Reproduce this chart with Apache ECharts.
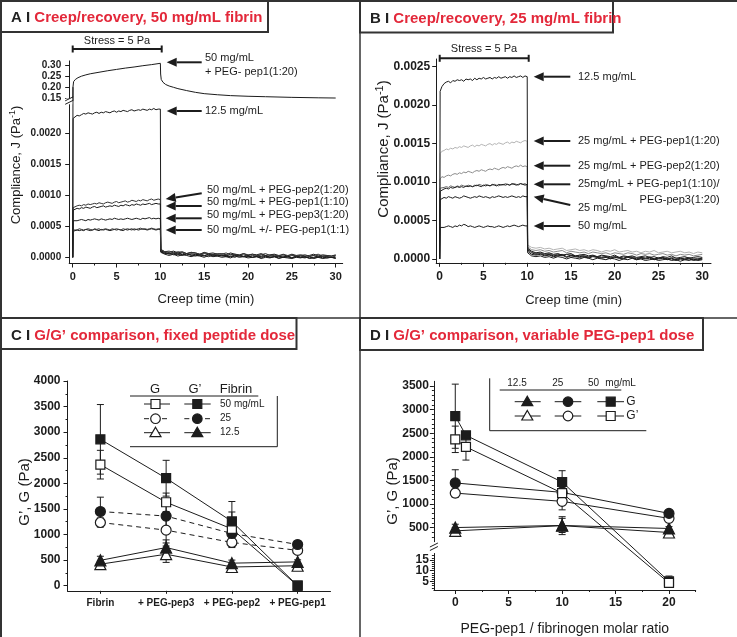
<!DOCTYPE html>
<html><head><meta charset="utf-8">
<script src="https://cdn.jsdelivr.net/npm/echarts@6/dist/echarts.min.js"></script>
<style>html,body{margin:0;padding:0;background:#fff}#c{width:737px;height:637px}</style>
</head><body><div id="c"></div>
<script>
// ---------------- DATA ----------------
// Creep / recovery time axes (min)
const creepTime = [0, 0.05, 0.25, 0.5, 0.75, 1, 1.25, 1.5, 1.75, 2, 2.25, 2.5, 2.75, 3, 3.25, 3.5, 3.75, 4, 4.25, 4.5, 4.75, 5, 5.25, 5.5, 5.75, 6, 6.25, 6.5, 6.75, 7, 7.25, 7.5, 7.75, 8, 8.25, 8.5, 8.75, 9, 9.25, 9.5, 9.75, 10];
const recoveryTime = [10.05, 10.5, 11, 11.5, 12, 12.5, 13, 13.5, 14, 14.5, 15, 15.5, 16, 16.5, 17, 17.5, 18, 18.5, 19, 19.5, 20, 20.5, 21, 21.5, 22, 22.5, 23, 23.5, 24, 24.5, 25, 25.5, 26, 26.5, 27, 27.5, 28, 28.5, 29, 29.5, 30];
// compliance values below are in units of 1e-5 Pa^-1
const J_UNIT = 1e-5;

// Panel A (50 mg/mL fibrin)
const a125Creep = [0,224,227,229,228,230,232,231,233,232, 231,233,234,232,234,233,235,234,233,235, 236,234,236,235,237,236,235,237,238,236, 237,238,237,239,238,237,239,238,240,238, 239,239];
const a125Rec = [13,9,8,10,7,9,6,8,7,5, 8,6,7,5,6,4,7,5,4,6, 3,5,4,6,3,4,5,3,4,2, 5,3,4,2,3,5,2,4,3,2, 4];
const aPep2Creep = [0,80,82,83,84,83,85,84,86,85, 86,87,86,88,87,86,88,89,88,87, 89,90,88,89,90,91,89,90,92,91, 90,92,91,93,92,91,93,94,92,93, 94,93];
const aPep2Rec = [11,7,6,8,5,7,4,6,5,3, 6,4,5,3,4,2,5,3,2,4, 1,3,2,4,1,2,3,1,2,0, 3,1,2,0,1,3,0,2,1,0, 2];
const aPep1_10Creep = [0,76,78,79,78,80,79,81,80,79, 81,82,80,81,82,83,81,82,83,82, 84,83,82,84,83,85,84,83,85,84, 86,85,84,86,85,86,87,85,86,87, 86,86];
const aPep1_10Rec = [10,8,5,6,7,4,6,3,5,4, 2,5,3,4,2,3,1,4,2,1, 3,0,2,1,3,0,1,2,0,1, -1,2,0,1,-1,0,2,-1,1,0, -1];
const aPep3Creep = [0,59,60,59,60,61,60,59,61,60, 61,62,61,60,62,61,60,61,62,61, 63,62,61,62,61,62,63,62,61,62, 63,62,61,63,62,63,64,62,63,62, 63,62];
const aPep3Rec = [9,6,7,4,5,3,6,4,2,4, 3,1,4,2,3,1,2,0,3,1, 2,0,1,-1,2,0,1,-1,0,2, -1,1,0,-1,1,-2,0,1,-1,0, -2];
const a50Creep = [0,42,43,44,43,44,43,45,44,43, 44,45,44,43,45,44,45,44,43,44, 45,44,45,44,43,45,44,45,46,44, 45,44,45,46,45,44,45,46,45,44, 45,45];
const a50Rec = [8,5,3,5,2,4,3,1,3,2, 0,3,1,2,0,1,-1,2,0,1, -1,0,1,-2,0,-1,1,-2,0,-1, -2,0,-1,1,-2,-1,0,-2,-1,0, -1];
const aPep1_1Creep = [0,44,45,44,46,45,44,45,46,45, 44,46,45,46,44,45,46,45,44,46, 45,46,45,44,46,45,46,45,44,46, 45,46,47,45,46,45,46,47,46,45, 46,46];
const aPep1_1Rec = [12,9,10,7,9,8,6,8,7,5, 7,6,4,6,5,7,4,5,3,6, 4,5,3,4,6,3,4,2,5,3, 4,2,3,4,2,3,5,2,3,2, 3];
// 50 mg/mL + PEG-pep1(1:20), upper (broken) segment, Pa^-1
const aPep1_20Time = [0,0.03,0.1,0.3,0.6,1,1.5,2,3,4,5,6,7,8,9,10,10.03,10.1,10.3,10.6,11,11.5,12,13,14,15,16.5,18,20,22,25,28,30];
const aPep1_20J = [0,0.2,0.225,0.235,0.243,0.25,0.256,0.261,0.268,0.275,0.281,0.287,0.292,0.298,0.303,0.309,0.26,0.235,0.222,0.212,0.205,0.199,0.193,0.184,0.176,0.17,0.165,0.161,0.158,0.156,0.153,0.151,0.15];

// Panel B (25 mg/mL fibrin)
const b125Creep = [0,218,224,228,230,231,229,232,231,233, 232,233,231,234,233,234,232,235,233,235, 234,236,234,235,236,234,236,235,237,235, 236,237,235,237,236,238,236,237,238,236, 238,237];
const b125Rec = [14,10,8,9,7,8,6,7,5,6, 7,4,5,6,4,5,3,5,4,3, 5,2,4,3,4,2,3,4,2,3, 1,3,2,4,1,2,3,1,2,3, 2];
const bPep1_20Creep = [0,137,140,141,143,142,144,143,145,144, 146,145,147,146,145,147,148,146,148,147, 149,148,147,149,150,148,150,149,151,150, 149,151,152,150,152,151,153,152,151,153, 154,153];
const bPep1_20Rec = [18,15,14,15,13,14,12,13,14,11, 12,13,11,12,10,12,11,9,11,10, 12,9,10,11,9,10,8,10,9,11, 8,9,10,8,9,10,8,9,7,9, 8];
const bPep2Creep = [0,104,107,106,108,109,108,110,111,110, 112,111,113,112,114,113,112,114,115,114, 116,115,114,116,117,116,118,117,116,118, 119,118,120,119,118,120,121,120,122,120, 121,120];
const bPep2Rec = [16,12,11,12,10,11,9,10,11,8, 10,9,8,9,7,9,8,7,8,6, 8,7,6,8,7,5,7,6,7,5, 6,7,5,6,4,6,5,6,4,5, 6];
const bPep1_10Creep = [0,88,90,91,92,91,93,92,93,94, 93,94,93,95,94,95,94,95,96,95, 94,96,95,96,95,97,96,95,97,96, 97,96,97,96,98,97,96,97,98,97, 96,97];
const bPep1_10Rec = [12,8,6,7,5,6,4,5,6,3, 5,4,3,4,2,4,3,2,3,1, 3,2,1,3,2,0,2,1,2,0, 1,2,0,1,-1,1,0,1,-1,0, 1];
const bPep3Creep = [0,92,94,93,94,93,95,94,93,95, 94,96,95,94,96,95,94,96,95,97, 96,95,97,96,95,96,97,96,95,97, 96,98,97,96,97,98,97,96,98,97, 98,96];
const bPep3Rec = [13,9,7,8,6,7,5,6,4,6, 5,3,5,4,3,4,2,4,3,2, 3,1,3,2,3,1,2,1,3,0, 2,1,0,2,1,0,1,2,0,1, 0];
const b25Creep = [0,77,79,80,79,81,80,79,81,80, 79,80,82,81,80,79,80,81,80,82, 81,80,81,80,79,81,80,81,82,81, 80,81,80,81,82,81,80,81,80,82, 81,81];
const b25Rec = [10,6,5,6,4,5,3,4,5,2, 4,3,2,3,1,3,2,1,2,0, 2,1,0,2,1,-1,1,0,1,-1, 0,1,-1,0,-2,0,-1,0,-2,-1, 0];
const b50Creep = [0,41,42,41,42,43,42,41,43,42, 44,43,45,44,42,43,42,41,42,43, 42,41,42,43,42,42,41,42,43,42, 41,42,43,42,43,44,43,42,43,44, 43,43];
const b50Rec = [8,4,3,4,2,3,1,3,2,0, 2,1,0,2,1,-1,1,0,-1,1, 0,-2,0,-1,1,-1,0,-2,-1,0, -2,-1,0,-2,-1,-3,-1,-2,0,-2, -1];

// Panel C (fixed peptide dose), Pa
const cCategories = ['Fibrin', '+ PEG-pep3', '+ PEG-pep2', '+ PEG-pep1'];
const c50Gp = [2860, 2100, 1255, 0];   const c50GpErr = [680, 350, 390, 0];
const c50G = [2365, 1630, 1110, 0];    const c50GErr = [280, 180, 330, 0];
const c25Gp = [1450, 1360, 1020, 805]; const c25GpErr = [280, 300, 200, 30];
const c25G = [1235, 1085, 845, 690];   const c25GErr = [90, 250, 100, 30];
const c125Gp = [495, 745, 440, 465];   const c125GpErr = [80, 150, 60, 40];
const c125G = [420, 615, 365, 390];    const c125GErr = [60, 160, 50, 40];

// Panel D (variable PEG-pep1 dose), Pa
const dRatio50 = [0, 1, 10, 20];
const d50G = [2860, 2455, 1465, 5];    const d50GErr = [680, 0, 240, 2.5];
const d50Gp = [2370, 2210, 1230, 4.3]; const d50GpErr = [280, 280, 150, 1.5];
const dRatio = [0, 10, 20];
const d25G = [1445, 1245, 800];        const d25GErr = [280, 100, 30];
const d25Gp = [1230, 1055, 695];       const d25GpErr = [90, 180, 30];
const d125G = [500, 545, 480];         const d125GErr = [70, 150, 40];
const d125Gp = [430, 540, 395];        const d125GpErr = [70, 190, 40];

// Tick labels
const timeTicks = [0, 5, 10, 15, 20, 25, 30];
const timeMinor = [2.5, 7.5, 12.5, 17.5, 22.5, 27.5];
const aLowerTicks = [0, 0.0005, 0.001, 0.0015, 0.002];
const aUpperTicks = [0.15, 0.2, 0.25, 0.3];
const bTicks = [0, 0.0005, 0.001, 0.0015, 0.002, 0.0025];
const cTicks = [0, 500, 1000, 1500, 2000, 2500, 3000, 3500, 4000];
const cMinor = [250, 750, 1250, 1750, 2250, 2750, 3250, 3750];
const dUpperTicks = [500, 1000, 1500, 2000, 2500, 3000, 3500];
const dLowerTicks = [5, 10, 15];
const dLowerMinor = [2, 3, 4, 6, 7, 8, 9, 11, 12, 13, 14, 16, 17];
const dXTicks = [0, 5, 10, 15, 20];
const dXMinor = [2.5, 7.5, 12.5, 17.5, 22.5];

// ---------------- STYLE / HELPERS ----------------
const FONT = '"Liberation Sans", Arial, Helvetica, sans-serif';
const INK = '#1c1c1c';
const RED = '#e3283a';
const BOX = '#333';

const dUpperMinor = [];
for (let v = 300; v < 3600; v += 100) if (v % 500 !== 0) dUpperMinor.push(v);

function mainAxis(pos, gi, min, max, ticks, fmt, fs, margin) {
  return {
    type: 'value', gridIndex: gi, min, max, position: pos,
    splitLine: { show: false },
    axisLine: { show: true, onZero: false, lineStyle: { color: INK, width: 1 } },
    axisTick: { show: true, customValues: ticks, length: 4, lineStyle: { color: INK, width: 1 } },
    axisLabel: { show: true, customValues: ticks, formatter: fmt, fontSize: fs, margin,
      hideOverlap: false, showMinLabel: true, showMaxLabel: true,
      fontWeight: 'bold', color: INK, fontFamily: FONT }
  };
}
function minorAxis(pos, gi, min, max, ticks) {
  return {
    type: 'value', gridIndex: gi, min, max, position: pos,
    splitLine: { show: false },
    axisLine: { show: false, onZero: false },
    axisLabel: { show: false },
    axisTick: { show: true, customValues: ticks, length: 2, lineStyle: { color: INK, width: 1 } }
  };
}
function labelOnlyAxis(pos, gi, min, max, ticks, fs, margin) {
  return {
    type: 'value', gridIndex: gi, min, max, position: pos,
    splitLine: { show: false },
    axisLine: { show: false, onZero: false },
    axisTick: { show: false },
    axisLabel: { show: true, customValues: ticks, fontSize: fs, margin, fontWeight: 'bold',
      color: INK, fontFamily: FONT, hideOverlap: false }
  };
}
function hiddenAxis(gi, min, max) {
  return { type: 'value', gridIndex: gi, min, max, show: false, splitLine: { show: false } };
}

function curve(creep, rec) {
  const out = [];
  creepTime.forEach((t, i) => out.push([t, creep[i] * J_UNIT]));
  recoveryTime.forEach((t, i) => out.push([t, rec[i] * J_UNIT]));
  return out;
}
function trace(xi, yi, data, color, z) {
  return { type: 'line', xAxisIndex: xi, yAxisIndex: yi, data, symbol: 'none', showSymbol: false,
    lineStyle: { color, width: 1 }, silent: true, animation: false, clip: true, z: z || 2 };
}
function markerSeries(xi, yi, data, sym, filled, dashed, size) {
  return { type: 'line', xAxisIndex: xi, yAxisIndex: yi, data, symbol: sym, symbolSize: size || 9,
    showSymbol: true, showAllSymbol: true, silent: true, animation: false, clip: false, z: 4,
    itemStyle: { color: filled ? INK : '#fff', borderColor: INK, borderWidth: 1.2, opacity: 1 },
    lineStyle: { color: INK, width: 1, type: dashed ? [5, 4] : 'solid' } };
}
function errRender(params, api) {
  const x = api.value(0), lo = api.value(1), hi = api.value(2);
  const t = api.coord([x, hi]), b = api.coord([x, lo]);
  const hw = 3.5, st = { stroke: INK, lineWidth: 1 };
  return { type: 'group', children: [
    { type: 'line', shape: { x1: t[0], y1: t[1], x2: b[0], y2: b[1] }, style: st },
    { type: 'line', shape: { x1: t[0] - hw, y1: t[1], x2: t[0] + hw, y2: t[1] }, style: st },
    { type: 'line', shape: { x1: b[0] - hw, y1: b[1], x2: b[0] + hw, y2: b[1] }, style: st }
  ] };
}
function errSeries(xi, yi, xs, vals, errs) {
  const data = xs.map((x, i) => [x, vals[i] - errs[i], vals[i] + errs[i]]);
  return { type: 'custom', xAxisIndex: xi, yAxisIndex: yi, data, renderItem: errRender,
    encode: { x: 0, y: [1, 2] }, silent: true, animation: false, z: 3 };
}
function pairs(xs, ys, keep) {
  const out = [];
  xs.forEach((x, i) => { if (keep(ys[i])) out.push([x, ys[i]]); });
  return out;
}

// graphic helpers
function txt(x, y, s, size, o) {
  o = o || {};
  return { type: 'text', x, y, rotation: o.rot || 0, z: 50, silent: true,
    style: { text: s, fill: o.color || INK, fontSize: size, fontFamily: FONT,
      fontWeight: o.bold ? 'bold' : 'normal',
      align: o.align || 'left', textAlign: o.align || 'left',
      verticalAlign: 'middle', textVerticalAlign: 'middle', rich: o.rich } };
}
function seg(x1, y1, x2, y2, w, color) {
  return { type: 'line', z: 50, silent: true, shape: { x1, y1, x2, y2 },
    style: { stroke: color || INK, lineWidth: w || 1 } };
}
function arrow(tx, ty, sx, sy) {
  const dx = sx - tx, dy = sy - ty, L = Math.hypot(dx, dy), ux = dx / L, uy = dy / L;
  const hl = 10, hw = 4.5, bx = tx + ux * hl, by = ty + uy * hl;
  return [seg(bx, by, sx, sy, 2),
    { type: 'polygon', z: 50, silent: true,
      shape: { points: [[tx, ty], [bx - uy * hw, by + ux * hw], [bx + uy * hw, by - ux * hw]] },
      style: { fill: INK } }];
}
function titleBox(x, y, w, h, letter, title, tx, ty) {
  return [
    { type: 'rect', z: 49, silent: true, shape: { x, y, width: w, height: h }, style: { fill: '#fff', stroke: BOX, lineWidth: 2 } },
    txt(tx, ty, '{k|' + letter + ' I }{r|' + title + '}', 15, { rich: {
      k: { fill: '#222', fontSize: 15, fontWeight: 'bold', fontFamily: FONT },
      r: { fill: RED, fontSize: 15, fontWeight: 'bold', fontFamily: FONT } } })
  ];
}
function sym(kind, cx, cy, filled) {
  const st = { fill: filled ? INK : '#fff', stroke: INK, lineWidth: 1.2 };
  if (kind === 'rect') return { type: 'rect', z: 51, silent: true, shape: { x: cx - 4.5, y: cy - 4.5, width: 9, height: 9 }, style: st };
  if (kind === 'circle') return { type: 'circle', z: 51, silent: true, shape: { cx, cy, r: 4.8 }, style: st };
  return { type: 'polygon', z: 51, silent: true, shape: { points: [[cx, cy - 5.5], [cx + 5.5, cy + 4], [cx - 5.5, cy + 4]] }, style: st };
}
function breakMark(x, y) {
  return [
    { type: 'rect', z: 50, silent: true, shape: { x: x - 3, y: y - 3, width: 6, height: 6 }, style: { fill: '#fff' } },
    seg(x - 4, y - 0.5, x + 4, y - 4.5, 1), seg(x - 4, y + 3, x + 4, y - 1, 1)
  ];
}
function supTitle(x, y, size) {
  return txt(x, y, '{a|Compliance, J (Pa}{s|-1}{a|)}', size, { rot: Math.PI / 2, align: 'center', rich: {
    a: { fontSize: size, fontFamily: FONT, fill: INK },
    s: { fontSize: Math.round(size * 0.7), fontFamily: FONT, fill: INK, padding: [0, 0, Math.round(size * 0.55), 0] } } });
}

// ---------------- OPTION ----------------
const grid = [
  { left: 69.2, top: 60.9, width: 273.5, height: 39.3 },   // 0 A upper
  { left: 69.2, top: 102.3, width: 273.5, height: 161.2 }, // 1 A lower
  { left: 436.2, top: 59, width: 274.8, height: 203.8 },   // 2 B
  { left: 67.5, top: 381, width: 263, height: 209.8 },     // 3 C
  { left: 433.9, top: 381.3, width: 261.8, height: 160.4 },// 4 D upper
  { left: 433.9, top: 553.5, width: 261.8, height: 36.9 }  // 5 D lower
];
const xAxis = [
  hiddenAxis(0, -0.4, 30.8),                                                   // 0
  Object.assign(mainAxis('bottom', 1, -0.4, 30.8, timeTicks, v => v, 11, 8),
    { name: 'Creep time (min)', nameLocation: 'middle', nameGap: 29,
      nameTextStyle: { fontSize: 13, fontFamily: FONT, color: INK } }),       // 1
  minorAxis('bottom', 1, -0.4, 30.8, timeMinor),                              // 2
  Object.assign(mainAxis('bottom', 2, -0.4, 31, timeTicks, v => v, 12, 8),
    { name: 'Creep time (min)', nameLocation: 'middle', nameGap: 31,
      nameTextStyle: { fontSize: 13, fontFamily: FONT, color: INK } }),       // 3
  minorAxis('bottom', 2, -0.4, 31, timeMinor),                                // 4
  { type: 'category', gridIndex: 3, data: cCategories, boundaryGap: true, position: 'bottom',
    axisLine: { show: true, onZero: false, lineStyle: { color: INK, width: 1 } },
    axisTick: { show: true, alignWithLabel: true, length: 3, lineStyle: { color: INK } },
    axisLabel: { fontSize: 10, fontWeight: 'bold', color: INK, fontFamily: FONT, margin: 7, interval: 0 },
    splitLine: { show: false } },                                              // 5
  hiddenAxis(4, -2, 22.5),                                                     // 6
  Object.assign(mainAxis('bottom', 5, -2, 22.5, dXTicks, v => v, 12, 7),
    { name: 'PEG-pep1 / fibrinogen molar ratio', nameLocation: 'middle', nameGap: 32,
      nameTextStyle: { fontSize: 14, fontFamily: FONT, color: INK } }),       // 7
  minorAxis('bottom', 5, -2, 22.5, dXMinor)                                   // 8
];
// lower D axis: ticks at 5/10/15, labels split over two axes so none get dropped
const dLowerY = mainAxis('left', 5, 1, 18, dLowerTicks, v => v, 12, 5);
dLowerY.axisLabel.customValues = [dLowerTicks[0], dLowerTicks[2]];
const yAxis = [
  mainAxis('left', 0, 0.14, 0.32, aUpperTicks, v => v.toFixed(2), 10, 8),        // 0
  mainAxis('left', 1, -0.0001, 0.0025, aLowerTicks, v => v.toFixed(4), 10, 8),   // 1
  mainAxis('left', 2, -0.00005, 0.0026, bTicks, v => v.toFixed(4), 12, 6),       // 2
  mainAxis('left', 3, -100, 4000, cTicks, v => v, 12, 7),                         // 3
  minorAxis('left', 3, -100, 4000, cMinor),                                       // 4
  mainAxis('left', 4, 200, 3600, dUpperTicks, v => v, 12, 5),                     // 5
  minorAxis('left', 4, 200, 3600, dUpperMinor),                                   // 6
  dLowerY,                                                                        // 7
  minorAxis('left', 5, 1, 18, dLowerMinor),                                       // 8
  labelOnlyAxis('left', 5, 1, 18, [dLowerTicks[1]], 12, 5)                        // 9
];

const series = [
  // A upper
  trace(0, 0, aPep1_20Time.map((t, i) => [t, aPep1_20J[i]]), INK),
  // A lower
  trace(1, 1, curve(a125Creep, a125Rec), INK),
  trace(1, 1, curve(aPep2Creep, aPep2Rec), '#333'),
  trace(1, 1, curve(aPep1_10Creep, aPep1_10Rec), INK),
  trace(1, 1, curve(aPep3Creep, aPep3Rec), INK),
  trace(1, 1, curve(a50Creep, a50Rec), INK),
  trace(1, 1, curve(aPep1_1Creep, aPep1_1Rec), '#333'),
  // B
  trace(3, 2, curve(bPep1_20Creep, bPep1_20Rec), '#b4b4b4'),
  trace(3, 2, curve(bPep2Creep, bPep2Rec), '#8c8c8c'),
  trace(3, 2, curve(bPep3Creep, bPep3Rec), '#666'),
  trace(3, 2, curve(b125Creep, b125Rec), INK),
  trace(3, 2, curve(bPep1_10Creep, bPep1_10Rec), INK),
  trace(3, 2, curve(b25Creep, b25Rec), INK),
  trace(3, 2, curve(b50Creep, b50Rec), INK),
  // C error bars
  errSeries(5, 3, [0, 1, 2, 3], c50Gp, c50GpErr),
  errSeries(5, 3, [0, 1, 2, 3], c50G, c50GErr),
  errSeries(5, 3, [0, 1, 2, 3], c25Gp, c25GpErr),
  errSeries(5, 3, [0, 1, 2, 3], c25G, c25GErr),
  errSeries(5, 3, [0, 1, 2, 3], c125Gp, c125GpErr),
  errSeries(5, 3, [0, 1, 2, 3], c125G, c125GErr),
  // C lines + markers (open first, filled on top)
  markerSeries(5, 3, c125G, 'triangle', false, false, 11),
  markerSeries(5, 3, c125Gp, 'triangle', true, false, 11),
  markerSeries(5, 3, c25G, 'circle', false, true, 10),
  markerSeries(5, 3, c25Gp, 'circle', true, true, 10),
  markerSeries(5, 3, c50G, 'rect', false, false),
  markerSeries(5, 3, c50Gp, 'rect', true, false),
  // D error bars (upper part)
  errSeries(6, 5, dRatio50.slice(0, 3), d50G.slice(0, 3), d50GErr.slice(0, 3)),
  errSeries(6, 5, dRatio50.slice(0, 3), d50Gp.slice(0, 3), d50GpErr.slice(0, 3)),
  errSeries(6, 5, dRatio, d25G, d25GErr),
  errSeries(6, 5, dRatio, d25Gp, d25GpErr),
  errSeries(6, 5, dRatio, d125G, d125GErr),
  errSeries(6, 5, dRatio, d125Gp, d125GpErr),
  // D error bars (lower part)
  errSeries(7, 7, dRatio50.slice(3), d50G.slice(3), d50GErr.slice(3)),
  errSeries(7, 7, dRatio50.slice(3), d50Gp.slice(3), d50GpErr.slice(3)),
  // D lines + markers (upper)
  markerSeries(6, 5, pairs(dRatio, d125Gp, v => v >= 200), 'triangle', false, false, 11),
  markerSeries(6, 5, pairs(dRatio, d125G, v => v >= 200), 'triangle', true, false, 11),
  markerSeries(6, 5, pairs(dRatio, d25Gp, v => v >= 200), 'circle', false, false, 10),
  markerSeries(6, 5, pairs(dRatio, d25G, v => v >= 200), 'circle', true, false, 10),
  markerSeries(6, 5, pairs(dRatio50, d50Gp, v => v >= 200), 'rect', false, false),
  markerSeries(6, 5, pairs(dRatio50, d50G, v => v >= 200), 'rect', true, false),
  // D markers (lower)
  markerSeries(7, 7, pairs(dRatio50, d50G, v => v < 200), 'rect', true, false),
  markerSeries(7, 7, pairs(dRatio50, d50Gp, v => v < 200), 'rect', false, false)
];

// static annotations
const G = [];
// panel frame and dividers
G.push(seg(1, 0, 1, 637, 2, BOX), seg(0, 1, 737, 1, 2, BOX));
G.push(seg(360, 0, 360, 637, 1.5, BOX), seg(0, 318, 737, 318, 1.5, BOX));
// titles
G.push(...titleBox(1, 1, 267, 31, 'A', 'Creep/recovery, 50 mg/mL fibrin', 11, 18));
G.push(...titleBox(360, 1, 253, 31.5, 'B', 'Creep/recovery, 25 mg/mL fibrin', 370, 19));
G.push(...titleBox(1, 318, 295.5, 31, 'C', 'G/G’ comparison, fixed peptide dose', 11, 335.5));
G.push(...titleBox(360, 318, 343, 32, 'D', 'G/G’ comparison, variable PEG-pep1 dose', 370, 335.5));
// stress bars
G.push(seg(72.7, 49, 161.7, 49, 2), seg(72.7, 45.5, 72.7, 52.5, 2), seg(161.7, 45.5, 161.7, 52.5, 2));
G.push(txt(117, 40.5, 'Stress = 5 Pa', 11, { align: 'center' }));
G.push(seg(439.7, 58.3, 528.7, 58.3, 2), seg(439.7, 54.8, 439.7, 61.8, 2), seg(528.7, 54.8, 528.7, 61.8, 2));
G.push(txt(484, 48.5, 'Stress = 5 Pa', 11, { align: 'center' }));
// A arrows + labels
G.push(...arrow(166.7, 62.3, 201.7, 62.3), txt(205, 57.5, '50 mg/mL', 11), txt(205, 72, '+ PEG- pep1(1:20)', 11));
G.push(...arrow(166.7, 111, 201.7, 111), txt(205, 111, '12.5 mg/mL', 11));
G.push(...arrow(165.7, 199, 201.7, 193.3), txt(207, 189.5, '50 mg/mL + PEG-pep2(1:20)', 11));
G.push(...arrow(165.7, 206, 201.7, 206), txt(207, 202.3, '50 mg/mL + PEG-pep1(1:10)', 11));
G.push(...arrow(165.7, 218.3, 201.7, 218.3), txt(207, 214.8, '50 mg/mL + PEG-pep3(1:20)', 11));
G.push(...arrow(165.7, 230, 201.7, 230), txt(207, 230, '50 mg/mL +/- PEG-pep1(1:1)', 11));
// B arrows + labels
G.push(...arrow(533.7, 76.7, 570.3, 76.7), txt(578, 76.7, '12.5 mg/mL', 11));
G.push(...arrow(533.7, 141, 570.3, 141), txt(578, 141, '25 mg/mL + PEG-pep1(1:20)', 11));
G.push(...arrow(533.7, 165.7, 570.3, 165.7), txt(578, 165.7, '25 mg/mL + PEG-pep2(1:20)', 11));
G.push(...arrow(533.7, 184.3, 570.3, 184.3), txt(578, 184.3, '25mg/mL + PEG-pep1(1:10)/', 11),
  txt(719.7, 199.7, 'PEG-pep3(1:20)', 11, { align: 'right' }));
G.push(...arrow(533.7, 196.7, 570.3, 205), txt(578, 208.3, '25 mg/mL', 11));
G.push(...arrow(533.7, 226, 570.3, 226), txt(578, 226, '50 mg/mL', 11));
// break marks
G.push(...breakMark(69.2, 101.3), ...breakMark(433.9, 547.5));
// axis titles
G.push(supTitle(16, 165, 13), supTitle(384, 149, 15));
G.push(txt(25, 492, 'G’, G (Pa)', 15, { rot: Math.PI / 2, align: 'center' }));
G.push(txt(393, 491, 'G’, G (Pa)', 15, { rot: Math.PI / 2, align: 'center' }));
// legend C
G.push(txt(155, 389.3, 'G', 13, { align: 'center' }), txt(195, 389.3, 'G’', 13, { align: 'center' }),
  txt(236, 389.3, 'Fibrin', 13, { align: 'center' }));
G.push(seg(130, 396, 258.3, 396, 1), seg(277.3, 396, 277.3, 446.7, 1), seg(130, 446.7, 277.3, 446.7, 1));
G.push(seg(144, 404, 170, 404), sym('rect', 155.5, 404, false), seg(184.3, 404, 210.7, 404), sym('rect', 197.3, 404, true),
  txt(220, 404, '50 mg/mL', 10));
G.push(seg(144, 418.7, 149, 418.7), seg(162, 418.7, 167, 418.7), sym('circle', 155.5, 418.7, false),
  seg(184.3, 418.7, 189.3, 418.7), seg(205, 418.7, 210, 418.7), sym('circle', 197.3, 418.7, true), txt(220, 418.7, '25', 10));
G.push(seg(144, 432.7, 170, 432.7), sym('tri', 155.5, 432.7, false), seg(184.3, 432.7, 210.7, 432.7), sym('tri', 197.3, 432.7, true),
  txt(220, 432.7, '12.5', 10));
// legend D
G.push(seg(489.7, 378.3, 489.7, 430.7, 1), seg(489.7, 430.7, 646.3, 430.7, 1), seg(499.7, 390, 621.3, 390, 1));
G.push(txt(507.3, 383, '12.5', 10), txt(552.3, 383, '25', 10), txt(588, 383, '50', 10), txt(605.3, 383, 'mg/mL', 10));
G.push(seg(514.7, 401.7, 540.7, 401.7), sym('tri', 527.3, 401.7, true), seg(554.7, 401.7, 581.3, 401.7), sym('circle', 568, 401.7, true),
  seg(597.3, 401.7, 624, 401.7), sym('rect', 610.7, 401.7, true), txt(626.3, 401.7, 'G', 12));
G.push(seg(514.7, 416, 540.7, 416), sym('tri', 527.3, 416, false), seg(554.7, 416, 581.3, 416), sym('circle', 568, 416, false),
  seg(597.3, 416, 624, 416), sym('rect', 610.7, 416, false), txt(626.3, 416, 'G’', 12));

const option = {
  animation: false,
  backgroundColor: '#fff',
  textStyle: { fontFamily: FONT },
  grid, xAxis, yAxis, series
};

const chart = echarts.init(document.getElementById('c'), null, { renderer: 'canvas' });
chart.setOption(option);

// connectors across the axis breaks, positioned through the axes' own scales
function connector(fromAxes, fromPt, toAxes, toPt) {
  const a = chart.convertToPixel(fromAxes, fromPt);
  const b = chart.convertToPixel(toAxes, toPt);
  return { type: 'line', z: 3, silent: true, shape: { x1: a[0], y1: a[1], x2: b[0], y2: b[1] },
    style: { stroke: INK, lineWidth: 1 } };
}
const up = { xAxisIndex: 6, yAxisIndex: 5 }, lo = { xAxisIndex: 7, yAxisIndex: 7 };
G.push(connector(up, [dRatio50[2], d50G[2]], lo, [dRatio50[3], d50G[3]]));
G.push(connector(up, [dRatio50[2], d50Gp[2]], lo, [dRatio50[3], d50Gp[3]]));
G.push(connector({ xAxisIndex: 1, yAxisIndex: 1 }, [aPep1_20Time[0], aPep1_20J[0]],
  { xAxisIndex: 0, yAxisIndex: 0 }, [aPep1_20Time[1], aPep1_20J[1]]));

option.graphic = { elements: G };
chart.setOption(option, true);
</script>
</body></html>
